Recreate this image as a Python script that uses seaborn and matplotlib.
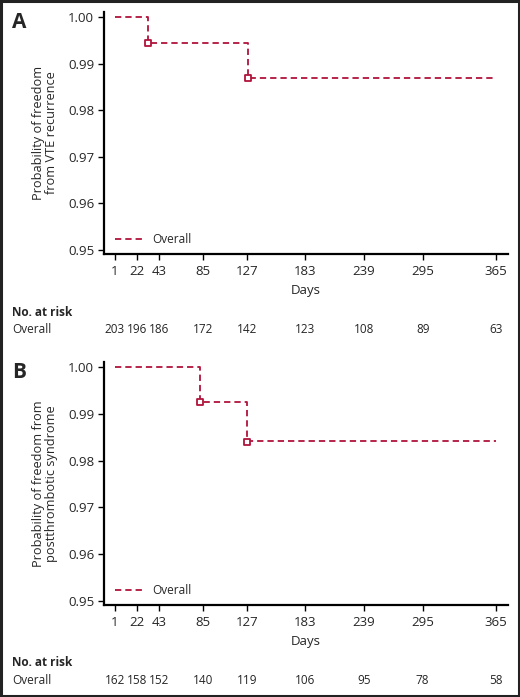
import matplotlib
matplotlib.use("Agg")
import matplotlib.pyplot as plt
import matplotlib.transforms as mtransforms
from matplotlib.patches import Rectangle
import seaborn as sns

# Kaplan-Meier step data
days_a = [1, 33, 128, 365]
surv_a = [1.0, 0.9945, 0.9869, 0.9869]
cens_days_a = [33, 128]
cens_surv_a = [0.9945, 0.9869]

days_b = [1, 82, 127, 365]
surv_b = [1.0, 0.9926, 0.9842, 0.9842]
cens_days_b = [82, 127]
cens_surv_b = [0.9926, 0.9840]

xticks = [1, 22, 43, 85, 127, 183, 239, 295, 365]
yticks = [0.95, 0.96, 0.97, 0.98, 0.99, 1.00]
risk_a = [203, 196, 186, 172, 142, 123, 108, 89, 63]
risk_b = [162, 158, 152, 140, 119, 106, 95, 78, 58]

ylabel_a = "Probability of freedom\nfrom VTE recurrence"
ylabel_b = "Probability of freedom from\npostthrombotic syndrome"

red = "#b0143c"

sns.set_theme(style="ticks")
plt.rcParams['font.family'] = ['Open Sans', 'DejaVu Sans']

fig = plt.figure(figsize=(5.2, 6.97), dpi=100)
W, H = 520, 697


def fy(px):
    return 1 - px / H


panels = [
    ("A", days_a, surv_a, cens_days_a, cens_surv_a, risk_a, ylabel_a, 12, 254, 0),
    ("B", days_b, surv_b, cens_days_b, cens_surv_b, risk_b, ylabel_b, 362, 605, 350),
]

for letter, days, surv, cd, cs, risk, ylab, top, bot, off in panels:
    ax = fig.add_axes([104 / W, fy(bot), (508 - 104) / W, (bot - top) / H])
    sns.lineplot(x=days, y=surv, drawstyle="steps-post", color=red, lw=1.3,
                 linestyle=(0, (3.5, 2.2)), ax=ax, label="Overall")
    sns.scatterplot(x=cd, y=cs, marker="s", s=20, facecolor="white",
                    edgecolor=red, linewidth=1.3, ax=ax, zorder=3)
    ax.set_xlim(-9.5, 376.5)
    ax.set_ylim(0.9491, 1.0011)
    ax.set_xticks(xticks)
    ax.set_yticks(yticks)
    ax.set_yticklabels([f"{v:.2f}" for v in yticks])
    ax.tick_params(axis="both", labelsize=9.5, length=4, width=1, color="black",
                   direction="out", pad=3)
    ax.tick_params(axis="x", pad=4)
    for s in ["top", "right"]:
        ax.spines[s].set_visible(False)
    for s in ["left", "bottom"]:
        ax.spines[s].set_linewidth(1.6)
        ax.spines[s].set_color("black")
    ax.set_xlabel("Days", fontsize=9.5, labelpad=4)
    ax.set_ylabel(ylab, fontsize=9.2, labelpad=7, linespacing=1.05)
    ax.legend(loc="lower left", bbox_to_anchor=(0.0, -0.01), frameon=False,
              fontsize=8.5, handlelength=2.6, handletextpad=0.6)

    fig.text(12 / W, fy(22 + off), letter, fontsize=15, fontweight="bold",
             va="center", ha="left")
    fig.text(12 / W, fy(312 + off), "No. at risk", fontsize=8.5,
             fontweight="bold", va="center", ha="left")
    fig.text(12 / W, fy(330 + off), "Overall", fontsize=8.5,
             va="center", ha="left")
    trans = mtransforms.blended_transform_factory(ax.transData, fig.transFigure)
    for xv, n in zip(xticks, risk):
        ax.text(xv, fy(330 + off), str(n), transform=trans, fontsize=8.5,
                ha="center", va="center", clip_on=False)

fig.patches.append(Rectangle((0.002, 0.0015), 0.996, 0.997, transform=fig.transFigure,
                             fill=False, edgecolor="#222222", linewidth=2.2))

fig.savefig("out.png", dpi=100, facecolor="white")
